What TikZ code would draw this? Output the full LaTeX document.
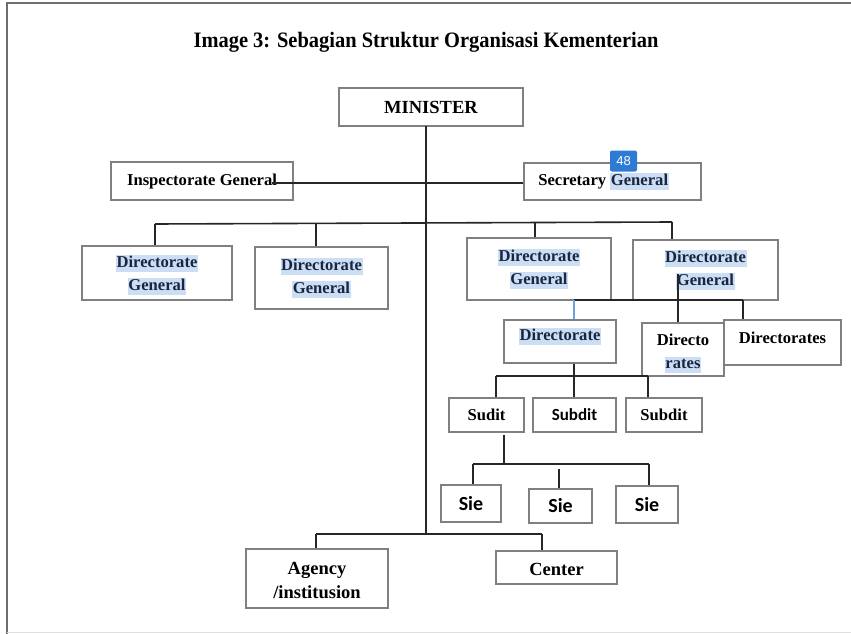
\documentclass[tikz,border=0pt]{standalone}
\usepackage{fontspec}
\setmainfont{Liberation Serif}
\newfontfamily\calfont{Carlito}
\newfontfamily\uifont{Liberation Sans}
\usetikzlibrary{positioning}
\definecolor{frame}{RGB}{110,110,110}
\definecolor{boxline}{RGB}{128,128,128}
\definecolor{hlfill}{RGB}{204,222,244}
\definecolor{hltext}{RGB}{24,38,66}
\definecolor{badge}{RGB}{46,123,214}
\definecolor{bluelink}{RGB}{110,160,220}
\newcommand\hlw[1]{{\setlength\fboxsep{0.6pt}\colorbox{hlfill}{\color{hltext}\vphantom{Dg}#1}}}
% shift text vertically without changing its reported size
\newcommand\shiftup[2]{\raisebox{#1}[\height][\depth]{#2}}
\tikzset{
  orgbox/.style={draw=boxline, line width=1.2pt, fill=white, inner sep=0pt,
    align=center, font=\bfseries\fontsize{16.6}{23}\selectfont},
  bigtext/.style={font=\bfseries\fontsize{18.5}{24}\selectfont},
  sietext/.style={font=\calfont\bfseries\fontsize{20}{22}\selectfont},
  link/.style={draw=black!85, line width=1.6pt},
}
\begin{document}
\begin{tikzpicture}[x=1pt,y=-1pt]
\useasboundingbox (0,0) rectangle (851,634);
% page frame
\draw[frame, line width=2pt] (7,634) -- (7,3) -- (851,3);
\draw[black!12, line width=0.8pt] (7,632) -- (851,632);
% title
\node[font=\bfseries\fontsize{22}{24}\selectfont] (title) at (426,42.5)
  {\scalebox{0.93}[1]{Image 3: Sebagian Struktur Organisasi Kementerian}};

% boxes
\node[orgbox, bigtext, minimum width=184, minimum height=38] (minister) at (431,107) {MINISTER};
\node[orgbox, minimum width=182, minimum height=38] (insp) at (202,181) {\shiftup{-1pt}{Inspectorate General}};
\node[orgbox, minimum width=177, minimum height=37] (secgen) at (612.5,181.5) {Secretary \hlw{General}\hspace*{18pt}};
\node[orgbox, minimum width=150, minimum height=54] (dg1) at (157,273) {\shiftup{-2pt}{\hlw{Directorate}}\\\shiftup{-2pt}{\hlw{General}}};
\node[orgbox, minimum width=133, minimum height=62] (dg2) at (321.5,278) {\hlw{Directorate}\\\hlw{General}};
\node[orgbox, minimum width=144, minimum height=62] (dg3) at (539,269) {\hlw{Directorate}\\\hlw{General}};
\node[orgbox, minimum width=145, minimum height=60] (dg4) at (705.5,270) {\hlw{Directorate}\\\hlw{General}};
\node[orgbox, minimum width=112, minimum height=43] (dir1) at (560,341.5) {\shiftup{5pt}{\hlw{Directorate}}};
\node[orgbox, minimum width=117, minimum height=45] (dir3) at (782.5,342.5) {\shiftup{5pt}{Directorates}};
\node[orgbox, minimum width=82, minimum height=53] (dir2) at (683,349.5) {\shiftup{-4pt}{Directo}\\\shiftup{-4pt}{\hlw{rates}}};
\node[orgbox, minimum width=75, minimum height=34] (sub1) at (486.5,415) {Sudit};
\node[orgbox, font=\calfont\bfseries\fontsize{17}{20}\selectfont, minimum width=83, minimum height=34] (sub2) at (574.5,415) {Subdit};
\node[orgbox, minimum width=76, minimum height=34] (sub3) at (664,415) {Subdit};
\node[orgbox, sietext, minimum width=60, minimum height=37] (sie1) at (471,503.5) {Sie};
\node[orgbox, sietext, minimum width=63, minimum height=34] (sie2) at (560.5,506) {Sie};
\node[orgbox, sietext, minimum width=62, minimum height=37] (sie3) at (647,504.5) {Sie};
\node[orgbox, bigtext, minimum width=142, minimum height=59] (agency) at (317,578.5) {\shiftup{-1.5pt}{Agency}\\\shiftup{-1.5pt}{/institusion}};
\node[orgbox, bigtext, minimum width=121, minimum height=33] (center) at (556.5,567.5) {\shiftup{-2pt}{Center}};

% junction points
\coordinate (mtop) at (426,126);
\coordinate (mend) at (426,534);
\coordinate (ig) at (272,183);
\coordinate (dgL) at (155,224);
\coordinate (dgR) at (672,222);
\coordinate (dgA) at (316,224);
\coordinate (dgB) at (535,222);
\coordinate (dv) at (678,274);
\coordinate (drL) at (574,300);
\coordinate (drR) at (743,300);
\coordinate (sdL) at (496,376);
\coordinate (sdM) at (574,376);
\coordinate (sdR) at (648,376);
\coordinate (sbT) at (504,435);
\coordinate (seL) at (473,464);
\coordinate (seR) at (649,464);
\coordinate (seM) at (559,469);
\coordinate (agL) at (316,534);
\coordinate (agR) at (542,534);

% connectors
\draw[link] (mtop) -- (mend);
\draw[link] (ig) -- (ig -| secgen.west);
\draw[link] (dgL) -- (dgR);
\draw[link] (dgL) -- (dgL |- dg1.north);
\draw[link] (dgA) -- (dgA |- dg2.north);
\draw[link] (dgB) -- (dgB |- dg3.north);
\draw[link] (dgR) -- (dgR |- dg4.north);
\draw[link] (dv) -- (dv |- dir2.north);
\draw[link] (drL) -- (drR);
\draw[bluelink, line width=1.4pt] (drL) -- (drL |- dir1.north);
\draw[link] (drR) -- (drR |- dir3.north);
\draw[link] (dir1.south -| sdM) -- (sdM);
\draw[link] (sdL) -- (sdR);
\draw[link] (sdL) -- (sdL |- sub1.north);
\draw[link] (sdM) -- (sdM |- sub2.north);
\draw[link] (sdR) -- (sdR |- sub3.north);
\draw[link] (sbT) -- (sbT |- seL);
\draw[link] (seL) -- (seR);
\draw[link] (seL) -- (seL |- sie1.north);
\draw[link] (seM) -- (seM |- sie2.north);
\draw[link] (seR) -- (seR |- sie3.north);
\draw[link] (agL) -- (agR);
\draw[link] (agL) -- (agL |- agency.north);
\draw[link] (agR) -- (agR |- center.north);

% page number badge
\node[fill=badge, rounded corners=2pt, minimum width=27, minimum height=21, inner sep=0pt,
  text=white, font=\uifont\fontsize{13}{13}\selectfont] (badge48) at (623.5,161) {48};
\end{tikzpicture}
\end{document}
